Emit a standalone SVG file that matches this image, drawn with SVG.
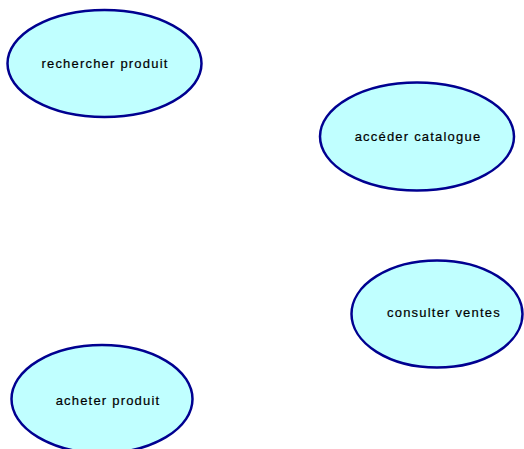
<svg xmlns="http://www.w3.org/2000/svg" width="524" height="449" viewBox="0 0 524 449">
  <style>
    .uc ellipse { fill: #c0ffff; stroke: #000090; stroke-width: 2.5; }
    .uc text { font-family: "Liberation Sans", Arial, sans-serif; font-size: 13px; letter-spacing: 1.2px; fill: #000; stroke: #000; stroke-width: 0.2; text-anchor: middle; dominant-baseline: central; }
  </style>
  <rect width="524" height="449" fill="#ffffff"/>
  <g id="connectors"></g>
  <g id="rechercher-produit" class="uc">
    <ellipse cx="104.5" cy="63.5" rx="97" ry="53.5"/>
    <text x="105" y="63">rechercher produit</text>
  </g>
  <g id="acceder-catalogue" class="uc">
    <ellipse cx="417" cy="136.5" rx="97" ry="54"/>
    <text x="418" y="136">accéder catalogue</text>
  </g>
  <g id="consulter-ventes" class="uc">
    <ellipse cx="437" cy="314" rx="85.5" ry="53.5"/>
    <text x="444" y="312">consulter ventes</text>
  </g>
  <g id="acheter-produit" class="uc">
    <ellipse cx="102" cy="399" rx="90.5" ry="54"/>
    <text x="108" y="400">acheter produit</text>
  </g>
</svg>
